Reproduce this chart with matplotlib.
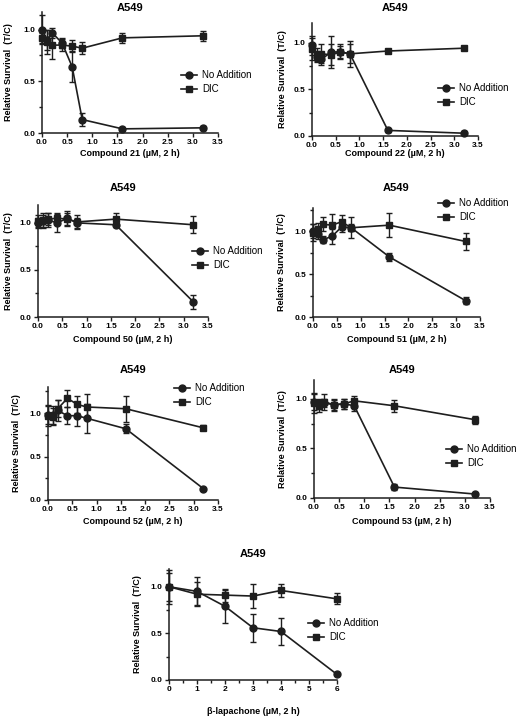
import matplotlib
matplotlib.use("Agg")
import matplotlib.pyplot as plt
from matplotlib.ticker import MultipleLocator

plt.rcParams['font.family'] = ['Liberation Sans', 'DejaVu Sans']

W, H = 519, 717

# concentrations
dose = [0, 0.1, 0.2, 0.4, 0.6, 0.8, 1.6, 3.2]
dose_lapa = [0, 1, 2, 3, 4, 6]

# compound 21
c21_na = [1.00, 0.90, 0.97, 0.87, 0.64, 0.13, 0.04, 0.05]
c21_na_err = [0.14, 0.10, 0.05, 0.05, 0.15, 0.06, 0.02, 0.02]
c21_dic = [0.92, 0.88, 0.85, 0.85, 0.84, 0.82, 0.92, 0.94]
c21_dic_err = [0.05, 0.12, 0.13, 0.06, 0.06, 0.06, 0.05, 0.05]

# compound 22
c22_na = [0.97, 0.85, 0.82, 0.90, 0.90, 0.88, 0.06, 0.03]
c22_na_err = [0.10, 0.06, 0.06, 0.17, 0.08, 0.10, 0.02, 0.02]
c22_dic = [0.93, 0.87, 0.88, 0.87, 0.90, 0.88, 0.91, 0.94]
c22_dic_err = [0.12, 0.07, 0.10, 0.11, 0.06, 0.14, 0.02, 0.02]

# compound 50
c50_na = [1.00, 1.02, 1.03, 1.00, 1.05, 1.00, 0.98, 0.16]
c50_na_err = [0.05, 0.06, 0.07, 0.10, 0.08, 0.05, 0.02, 0.07]
c50_dic = [1.02, 1.03, 1.04, 1.05, 1.04, 1.01, 1.04, 0.98]
c50_dic_err = [0.06, 0.08, 0.06, 0.04, 0.06, 0.07, 0.06, 0.09]

# compound 51
c51_na = [1.00, 0.97, 0.90, 0.94, 1.05, 1.04, 0.70, 0.19]
c51_na_err = [0.08, 0.06, 0.04, 0.09, 0.06, 0.04, 0.05, 0.04]
c51_dic = [0.98, 1.03, 1.08, 1.07, 1.11, 1.04, 1.07, 0.88]
c51_dic_err = [0.10, 0.07, 0.08, 0.13, 0.08, 0.12, 0.14, 0.10]

# compound 52
c52_na = [0.98, 0.98, 1.03, 0.97, 0.97, 0.94, 0.82, 0.13]
c52_na_err = [0.10, 0.10, 0.12, 0.10, 0.12, 0.17, 0.05, 0.01]
c52_dic = [0.97, 0.96, 1.05, 1.17, 1.10, 1.07, 1.05, 0.83]
c52_dic_err = [0.12, 0.10, 0.10, 0.10, 0.10, 0.15, 0.15, 0.03]

# compound 53
c53_na = [0.97, 0.95, 0.96, 0.94, 0.95, 0.93, 0.11, 0.04]
c53_na_err = [0.08, 0.05, 0.04, 0.06, 0.05, 0.05, 0.03, 0.01]
c53_dic = [0.96, 0.93, 0.97, 0.94, 0.95, 0.98, 0.93, 0.79]
c53_dic_err = [0.10, 0.06, 0.08, 0.05, 0.05, 0.05, 0.06, 0.04]

# beta-lapachone
lapa_na = [1.00, 0.95, 0.79, 0.56, 0.52, 0.06]
lapa_na_err = [0.18, 0.15, 0.18, 0.15, 0.14, 0.01]
lapa_dic = [1.00, 0.92, 0.91, 0.90, 0.96, 0.87]
lapa_dic_err = [0.15, 0.13, 0.07, 0.13, 0.07, 0.06]

col = '#1e1e1e'

fig = plt.figure(figsize=(W / 100, H / 100), dpi=100)


def panel(box, x, na, na_err, dic, dic_err, xlabel, ymax, xmax, title_y,
          ylab_x, xlab_y, leg, xstep=0.5, xminor=None):
    """box = (left, top, right, bottom) in pixels, leg = (text_x, row1_y)"""
    l, t, r, b = box
    ax = fig.add_axes([l / W, 1 - b / H, (r - l) / W, (b - t) / H])
    # error bars first, then line + marker on top
    for y, e in ((na, na_err), (dic, dic_err)):
        ax.errorbar(x, y, yerr=e, fmt='none', ecolor=col, capsize=2.5,
                    elinewidth=1, capthick=1, clip_on=False, zorder=2)
    ax.plot(x, na, color=col, marker='o', ms=5, lw=1.2, label='No Addition',
            clip_on=False, zorder=3)
    ax.plot(x, dic, color=col, marker='s', ms=5, lw=1.2, label='DIC',
            clip_on=False, zorder=3)
    ax.set_xlim(0, xmax)
    ax.set_ylim(0, ymax)
    ax.spines['top'].set_visible(False)
    ax.spines['right'].set_visible(False)
    for s in ('left', 'bottom'):
        ax.spines[s].set_linewidth(1.1)
        ax.spines[s].set_color(col)
    ax.set_yticks([0, 0.5, 1.0])
    ax.set_yticklabels(['0.0', '0.5', '1.0'])
    ax.yaxis.set_minor_locator(MultipleLocator(0.25))
    ax.xaxis.set_major_locator(MultipleLocator(xstep))
    if xstep == 0.5:
        ax.xaxis.set_major_formatter(lambda v, p: f"{v:.1f}")
    if xminor:
        ax.xaxis.set_minor_locator(MultipleLocator(xminor))
    ax.tick_params(which='both', direction='out', width=1, color=col,
                   labelsize=6, pad=1.5)
    ax.tick_params(which='major', length=3)
    ax.tick_params(which='minor', length=2)
    for lab in ax.get_xticklabels() + ax.get_yticklabels():
        lab.set_fontweight('bold')
    ax.set_title('A549', fontsize=8, fontweight='bold', pad=0,
                 y=(b - title_y) / (b - t), va='center')
    ax.set_ylabel('Relative Survival  (T/C)', fontsize=6.5, fontweight='bold')
    ax.yaxis.set_label_coords((ylab_x - l) / (r - l), 0.5)
    ax.set_xlabel(xlabel, fontsize=6.5, fontweight='bold')
    ax.xaxis.set_label_coords(0.5, (b - xlab_y) / (b - t))
    ax.xaxis.label.set_va('center')
    tx, ty = leg
    ax.legend(loc='upper left', bbox_to_anchor=((tx - 21) / W, 1 - (ty - 5) / H),
              bbox_transform=fig.transFigure, frameon=False, fontsize=7,
              handlelength=1.6, handletextpad=0.6, borderpad=0,
              borderaxespad=0, labelspacing=0.45)
    return ax


panel((42, 12, 218, 133), dose, c21_na, c21_na_err, c21_dic, c21_dic_err,
      'Compound 21 (µM, 2 h)', 1.17, 3.5, 8, 13, 153, (202, 75))
panel((312, 23, 478, 136), dose, c22_na, c22_na_err, c22_dic, c22_dic_err,
      'Compound 22 (µM, 2 h)', 1.21, 3.5, 8, 287, 153, (459, 88))
panel((38, 205, 208, 317), dose, c50_na, c50_na_err, c50_dic, c50_dic_err,
      'Compound 50 (µM, 2 h)', 1.19, 3.5, 188, 13, 340, (213, 251))
panel((313, 208, 480, 317), dose, c51_na, c51_na_err, c51_dic, c51_dic_err,
      'Compound 51 (µM, 2 h)', 1.27, 3.5, 188, 286, 340, (459, 203))
panel((48, 387, 218, 500), dose, c52_na, c52_na_err, c52_dic, c52_dic_err,
      'Compound 52 (µM, 2 h)', 1.30, 3.5, 370, 21, 521, (195, 388))
panel((314, 380, 490, 498), dose, c53_na, c53_na_err, c53_dic, c53_dic_err,
      'Compound 53 (µM, 2 h)', 1.19, 3.5, 370, 287, 521, (467, 449))
panel((169, 569, 337, 680), dose_lapa, lapa_na, lapa_na_err, lapa_dic, lapa_dic_err,
      'β-lapachone (µM, 2 h)', 1.19, 6, 554, 142, 711, (329, 623),
      xstep=1, xminor=0.5)

fig.savefig('out.png', dpi=100)
